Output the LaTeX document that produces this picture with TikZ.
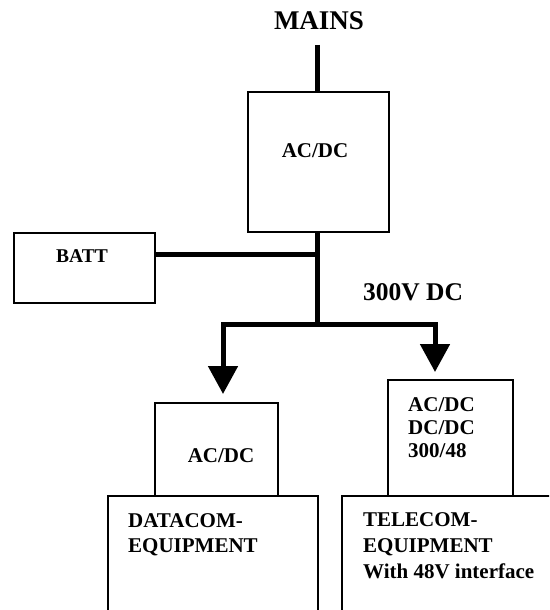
\documentclass[tikz,border=0pt]{standalone}
\usepackage{fontspec}
\setmainfont{Liberation Serif}
\usetikzlibrary{arrows.meta,positioning}

\begin{document}
\begin{tikzpicture}[x=1pt, y=-1pt,
    box/.style={draw, line width=1.6pt, anchor=north west, inner sep=0pt},
    lbl/.style={font=\bfseries\fontsize{21}{25}\selectfont, inner sep=0pt, align=left},
    bus/.style={line width=5pt},
    feed/.style={bus, -{Triangle[length=28pt, width=29pt]}}
  ]
  \clip (0,0) rectangle (549,610);
  \useasboundingbox (0,0) rectangle (549,610);

  % boxes
  \node[box, minimum width=141pt, minimum height=140pt] (rect) at (247,91) {};
  \node[box, minimum width=141pt, minimum height=70pt] (batt) at (13,232) {};
  \node[box, minimum width=123pt, minimum height=93pt] (dcconv) at (154,402) {};
  \node[box, minimum width=125pt, minimum height=116pt] (tconv) at (387,379) {};
  \node[box, minimum width=210pt, minimum height=150pt] (datacom) at (107,495) {};
  \node[box, minimum width=240pt, minimum height=150pt] (telecom) at (341,495) {};

  % texts
  \node[lbl, font=\bfseries\fontsize{27}{30}\selectfont, anchor=base] (mains) at (319,30) {MAINS};
  \node[lbl, anchor=base] (rectlbl) at (315,157) {AC/DC};
  \node[lbl, font=\bfseries\fontsize{19.5}{23}\selectfont, anchor=base] (battlbl) at (82,262) {BATT};
  \node[lbl, font=\bfseries\fontsize{25.5}{28}\selectfont, anchor=base] (dclbl) at (413,300) {300V DC};
  \node[lbl, anchor=base] (dcconvlbl) at (221,462) {AC/DC};
  \node[lbl, font=\bfseries\fontsize{21}{23}\selectfont, anchor=north west] (tconvlbl) at (408,397)
    {AC/DC\\DC/DC\\300/48};
  \node[lbl, anchor=north west] (datacomlbl) at (128,513) {DATACOM-\\EQUIPMENT};
  \node[lbl, font=\bfseries\fontsize{21}{26}\selectfont, anchor=north west] (telecomlbl) at (363,512)
    {TELECOM-\\EQUIPMENT\\With 48V interface};

  % bus
  \coordinate (mainsin) at (317,45);
  \coordinate (join) at (317,254);
  \coordinate (split) at (317,324);
  \draw[bus] (mainsin) -- (rect.north -| mainsin);
  \draw[bus] (rect.south -| mainsin) -- ([yshift=-2.5pt]split);
  \draw[bus] (batt.east |- join) -- (join);
  \draw[feed] ([xshift=2.5pt]split) -| (223,394);
  \draw[feed] ([xshift=-2.5pt]split) -| (435,372);
\end{tikzpicture}
\end{document}
